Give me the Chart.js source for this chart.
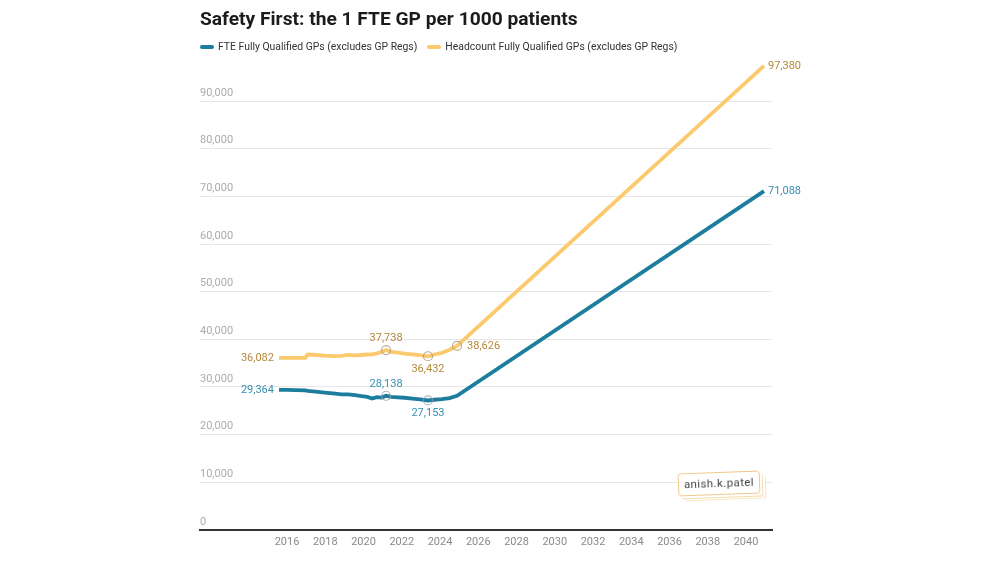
<!DOCTYPE html>
<html>
<head>
<meta charset="utf-8">
<script src="https://cdn.jsdelivr.net/npm/chart.js@4.4.1/dist/chart.umd.min.js"></script>
<style>
  html,body{margin:0;padding:0;background:#fff;}
  body{width:1000px;height:563px;position:relative;overflow:hidden;font-family:Roboto,"Noto Sans",sans-serif;}
  #wrap{position:absolute;left:0;top:0;width:1000px;height:563px;}
  .ttl{position:absolute;left:200px;top:7px;font-size:19.2px;font-weight:700;color:#1b1b1b;line-height:24px;white-space:nowrap;}
  .lgd{position:absolute;left:200px;top:40px;font-size:10.4px;color:#333;line-height:14px;display:flex;gap:10px;white-space:nowrap;}
  .lgd span{display:inline-flex;align-items:center;}
  .lgd i{display:inline-block;width:14px;height:4px;border-radius:2px;margin-right:4px;}
  .badge{position:absolute;left:678px;top:472px;width:80px;height:21px;border:1px solid #f0c98c;border-radius:3px;background:#fff;
    font-size:11.5px;color:#444;line-height:21px;text-align:center;letter-spacing:0.4px;transform:rotate(-2deg);
    box-shadow:2px 2px 0 #fff,3px 3px 0 #f6dcae,5px 4px 0 #fff,6px 5px 0 #f9e6c4;}
</style>
</head>
<body>
<div id="wrap"><canvas id="c"></canvas></div>
<div class="ttl">Safety First: the 1 FTE GP per 1000 patients</div>
<div class="lgd" id="lgd"></div>
<div class="badge">anish.k.patel</div>
<script>
// data (year as decimal, last point = projection end)
const years=[2015.58,2016.0,2016.45,2016.95,2017.08,2017.5,2017.95,2018.4,2018.85,2019.2,2019.55,2019.9,2020.2,2020.45,2020.7,2020.95,2021.18,2021.45,2021.8,2022.15,2022.55,2022.95,2023.37,2023.7,2024.1,2024.5,2024.89,2040.94];
const fteValues=[29364,29390,29340,29250,29150,29000,28820,28620,28420,28450,28250,28050,27900,27550,27850,27750,28138,27900,27800,27720,27550,27400,27153,27300,27450,27650,28150,71088];
const headValues=[36082,36080,36090,36120,36800,36700,36550,36450,36500,36700,36600,36700,36800,36850,37050,37350,37738,37350,37200,37000,36850,36650,36432,36800,37150,37800,38626,97380];
const xTicks=[2016,2018,2020,2022,2024,2026,2028,2030,2032,2034,2036,2038,2040];
const yTicks=[0,10000,20000,30000,40000,50000,60000,70000,80000,90000];
const seriesNames=['FTE Fully Qualified GPs (excludes GP Regs)','Headcount Fully Qualified GPs (excludes GP Regs)'];

const COL={fte:'#1d7d9f',head:'#fcca6e',fteTxt:'#3590b2',headTxt:'#b4883c'};
// which points carry a value label, and where it sits
const LBL={
  fte:[[0,'left'],[16,'above'],[22,'below'],[27,'right']],
  head:[[0,'left'],[16,'above'],[22,'below'],[26,'right'],[27,'right']]
};
const CIRC={fte:[16,22],head:[16,22,26]};
const fmt=v=>v.toLocaleString('en-US');

document.getElementById('lgd').innerHTML=
  `<span><i style="background:${COL.fte}"></i>${seriesNames[0]}</span><span><i style="background:${COL.head}"></i>${seriesNames[1]}</span>`;

const pts=vals=>years.map((y,i)=>({x:y,y:vals[i]}));
const rad=key=>ctx=>CIRC[key].includes(ctx.dataIndex)?4.5:0;

const valueLabels={
  id:'valueLabels',
  afterDatasetsDraw(chart){
    const {ctx}=chart;
    ctx.save();
    ctx.font='11px Roboto, sans-serif';
    [['fte',0,COL.fteTxt,fteValues],['head',1,COL.headTxt,headValues]].forEach(([key,di,col,vals])=>{
      const meta=chart.getDatasetMeta(di);
      ctx.fillStyle=col;
      LBL[key].forEach(([i,pos])=>{
        const p=meta.data[i]; const t=fmt(vals[i]);
        let x=p.x,y=p.y;
        if(pos==='left'){ctx.textAlign='right';x-=5;}
        else if(pos==='right'){ctx.textAlign='left';x+=(CIRC[key].includes(i)?10:4);}
        else {ctx.textAlign='center'; y+=pos==='above'?-12:13;}
        ctx.textBaseline='middle';
        ctx.fillText(t,x,y);
      });
    });
    ctx.restore();
  }
};

new Chart(document.getElementById('c'),{
  type:'line',
  data:{datasets:[
    {label:seriesNames[0],data:pts(fteValues),borderColor:COL.fte,borderWidth:3.8,tension:0,
     pointRadius:rad('fte'),pointBorderColor:'rgba(150,160,165,0.75)',pointBackgroundColor:'rgba(0,0,0,0)',pointBorderWidth:1.2,pointHoverRadius:0,clip:false},
    {label:seriesNames[1],data:pts(headValues),borderColor:COL.head,borderWidth:3.8,tension:0,
     pointRadius:rad('head'),pointBorderColor:'rgba(165,150,120,0.75)',pointBackgroundColor:'rgba(0,0,0,0)',pointBorderWidth:1.2,pointHoverRadius:0,clip:false}
  ]},
  options:{
    responsive:true,maintainAspectRatio:false,animation:false,
    layout:{padding:{left:200,right:228,top:63,bottom:8}},
    plugins:{legend:{display:false},tooltip:{enabled:false}},
    scales:{
      x:{type:'linear',min:2011.45,max:2041.36,
        afterBuildTicks:a=>{a.ticks=xTicks.map(v=>({value:v}));},
        grid:{display:false,drawTicks:false},
        border:{display:true,color:'#333',width:2},
        ticks:{color:'#8a8a8a',font:{family:'Roboto',size:11},padding:6,callback:v=>String(v)}},
      y:{min:0,max:98000,
        afterBuildTicks:a=>{a.ticks=yTicks.map(v=>({value:v}));},
        grid:{color:'#e6e6e6',lineWidth:1,drawTicks:false},
        border:{display:false},
        ticks:{mirror:true,padding:0,labelOffset:-8,color:'#ababab',font:{family:'Roboto',size:11},callback:v=>fmt(v)}}
    }
  },
  plugins:[valueLabels]
});
</script>
</body>
</html>
